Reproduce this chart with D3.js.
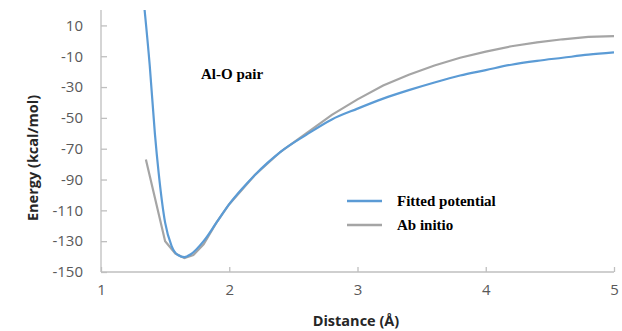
<!DOCTYPE html>
<html>
<head>
<meta charset="utf-8">
<script src="https://cdn.jsdelivr.net/npm/d3@7"></script>
<style>
  body { margin: 0; background: #fff; }
  svg { display: block; }
</style>
</head>
<body>
<div id="chart"></div>
<script>
// values
var fittedDist = [1.34, 1.38, 1.42, 1.45, 1.50, 1.55, 1.60, 1.65, 1.70, 1.80, 1.90, 2.0, 2.1, 2.2, 2.3, 2.4, 2.6, 2.8, 3.0, 3.2, 3.4, 3.6, 3.8, 4.0, 4.2, 4.4, 4.6, 4.8, 5.0];
var fittedEnergy = [20, -16, -60, -86, -118, -133, -139, -140.3, -138.5, -130, -118, -106, -96, -87, -79, -72, -61, -51, -44, -37.5, -32, -27, -22.5, -19, -15.5, -13, -11, -9, -7.5];

var abDist = [1.35, 1.50, 1.58, 1.65, 1.72, 1.80, 1.90, 2.0, 2.2, 2.4, 2.6, 2.8, 3.0, 3.2, 3.4, 3.6, 3.8, 4.0, 4.2, 4.4, 4.6, 4.8, 5.0];
var abEnergy = [-77, -130, -138, -141, -139, -132, -118, -106, -87, -72, -60, -48, -38, -29, -22, -16, -11, -7, -3.5, -1, 1, 2.5, 3];

var xTicks = [1, 2, 3, 4, 5];
var yTicks = [-150, -130, -110, -90, -70, -50, -30, -10, 10];

var width = 622, height = 331;
var svg = d3.select("#chart").append("svg")
    .attr("width", width)
    .attr("height", height);

var x = d3.scaleLinear().domain([1, 5]).range([101, 614]);
var y = d3.scaleLinear().domain([-150, 20]).range([272, 10]);

// axes
var xAxis = svg.append("g")
    .attr("transform", "translate(0," + y(-150) + ")")
    .call(d3.axisBottom(x).tickValues(xTicks).tickSize(-5).tickPadding(12).tickFormat(String));
var yAxis = svg.append("g")
    .attr("transform", "translate(" + x(1) + ",0)")
    .call(d3.axisLeft(y).tickValues(yTicks).tickSize(-6).tickPadding(18).tickFormat(String));

[xAxis, yAxis].forEach(function (g) {
    g.select(".domain").attr("stroke", "#bfbfbf").attr("stroke-width", 1.3);
    g.selectAll(".tick line").attr("stroke", "#bfbfbf").attr("stroke-width", 1.3);
    g.selectAll(".tick text")
        .attr("fill", "#595959")
        .style("font-family", "'Open Sans', sans-serif")
        .style("font-size", "15px");
});
yAxis.select(".domain").attr("d", "M0," + y(-150) + "V" + y(20));
xAxis.select(".domain").attr("d", "M" + x(1) + ",0H" + x(5));

// axis titles
svg.append("text")
    .attr("transform", "translate(38,158) rotate(-90)")
    .attr("text-anchor", "middle")
    .style("font-family", "'Open Sans', sans-serif")
    .style("font-weight", "bold")
    .style("font-size", "14.5px")
    .attr("fill", "#262626")
    .text("Energy (kcal/mol)");

svg.append("text")
    .attr("x", 356)
    .attr("y", 326)
    .attr("text-anchor", "middle")
    .style("font-family", "'Open Sans', sans-serif")
    .style("font-weight", "bold")
    .style("font-size", "14.5px")
    .attr("fill", "#262626")
    .text("Distance (Å)");

// curves
svg.append("clipPath").attr("id", "plot")
    .append("rect").attr("x", x(1)).attr("y", y(20) - 1).attr("width", x(5) - x(1) + 2).attr("height", y(-150) - y(20) + 1);

var abLine = d3.line()
    .x(function (d, i) { return x(abDist[i]); })
    .y(function (d) { return y(d); });
var fitLine = d3.line()
    .curve(d3.curveMonotoneX)
    .x(function (d, i) { return x(fittedDist[i]); })
    .y(function (d) { return y(d); });

svg.append("path")
    .attr("d", abLine(abEnergy))
    .attr("clip-path", "url(#plot)")
    .attr("fill", "none")
    .attr("stroke", "#a5a5a5")
    .attr("stroke-width", 2.2);

svg.append("path")
    .attr("d", fitLine(fittedEnergy))
    .attr("clip-path", "url(#plot)")
    .attr("fill", "none")
    .attr("stroke", "#5b9bd5")
    .attr("stroke-width", 2.2);

// annotation
svg.append("text")
    .attr("x", 201)
    .attr("y", 79)
    .style("font-family", "'Liberation Serif', serif")
    .style("font-weight", "bold")
    .style("font-size", "15px")
    .attr("fill", "#000")
    .text("Al-O pair");

// legend
var legend = [
    { name: "Fitted potential", color: "#5b9bd5" },
    { name: "Ab initio", color: "#a5a5a5" }
];
var lg = svg.selectAll(".legend").data(legend).enter().append("g")
    .attr("class", "legend")
    .attr("transform", function (d, i) { return "translate(347," + (201 + i * 24) + ")"; });
lg.append("line")
    .attr("x1", 0).attr("x2", 35)
    .attr("stroke", function (d) { return d.color; })
    .attr("stroke-width", 2.5);
lg.append("text")
    .attr("x", 50)
    .attr("y", 5)
    .style("font-family", "'Liberation Serif', serif")
    .style("font-weight", "bold")
    .style("font-size", "15px")
    .attr("fill", "#000")
    .text(function (d) { return d.name; });
</script>
</body>
</html>
